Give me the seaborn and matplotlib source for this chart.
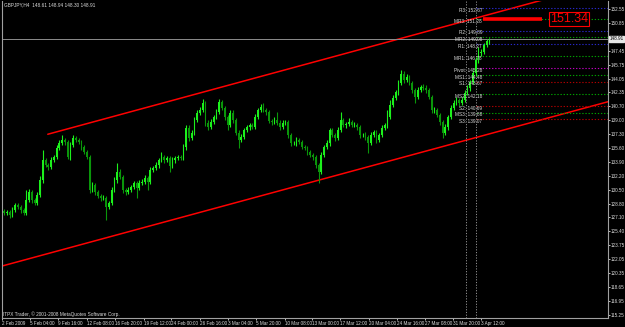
import numpy as np
import pandas as pd
import matplotlib
matplotlib.use("Agg")
import matplotlib.pyplot as plt
import seaborn as sns

# ---------------- data ----------------
first_open = 127.90
closes = [
    127.64, 127.76, 127.40, 128.01, 128.62, 128.37, 128.01, 127.64, 129.23, 130.20,
    129.23, 128.86, 129.84, 131.67, 134.11, 133.50, 133.26, 134.11, 134.48, 135.57,
    136.18, 136.55, 136.31, 134.48, 135.94, 136.79, 136.55, 136.31, 135.70, 135.09,
    134.48, 130.45, 131.06, 130.20, 129.72, 129.47, 129.47, 128.37, 128.86, 130.45,
    131.67, 132.65, 132.04, 130.45, 130.20, 130.45, 130.81, 131.30, 130.69, 131.30,
    131.43, 131.91, 131.43, 132.89, 133.13, 133.50, 134.11, 134.48, 134.11, 134.35,
    133.38, 134.11, 134.35, 134.48, 134.35, 135.70, 138.02, 136.79, 137.41, 138.99,
    139.85, 140.21, 141.07, 138.63, 138.14, 138.75, 139.36, 139.97, 141.19, 140.46,
    139.36, 138.38, 139.85, 138.99, 137.41, 136.55, 136.92, 137.77, 138.14, 138.38,
    138.14, 139.36, 140.21, 140.58, 140.21, 139.97, 138.87, 138.75, 138.99, 138.63,
    138.14, 138.63, 138.75, 137.16, 136.18, 136.18, 136.55, 136.31, 135.70, 135.57,
    135.09, 134.72, 134.48, 133.50, 132.65, 134.72, 135.70, 136.18, 137.77, 137.16,
    136.79, 137.77, 138.99, 138.38, 138.50, 138.75, 138.38, 138.38, 138.14, 137.16,
    137.16, 136.92, 136.18, 137.16, 137.53, 136.55, 137.16, 138.02, 138.38, 139.36,
    140.82, 141.68, 142.41, 143.51, 144.61, 143.87, 144.24, 143.51, 142.65, 141.80,
    142.65, 143.02, 142.90, 142.65, 141.80, 140.21, 140.21, 139.60, 138.75, 137.41,
    138.14, 139.36, 140.46, 141.07, 141.43, 141.07, 141.43, 142.29, 142.90, 143.63,
    144.73, 146.31, 147.17, 147.29, 148.14, 148.61, 148.91,
]
upper_wick = [
    0.25, 0.30, 0.20, 0.35, 0.30, 0.25, 0.30, 0.20, 1.22, 0.35,
    0.30, 0.25, 0.40, 0.45, 1.22, 0.30, 0.25, 0.35, 0.30, 0.40,
    0.35, 0.61, 0.30, 0.25, 0.35, 0.37, 0.30, 0.25, 0.20, 0.30,
    0.25, 0.20, 0.40, 0.30, 0.25, 0.30, 0.35, 0.25, 0.30, 0.40,
    0.35, 1.09, 0.30, 0.25, 0.30, 0.35, 0.30, 0.25, 0.30, 0.35,
    0.30, 0.35, 0.25, 0.40, 0.30, 0.35, 0.30, 0.61, 0.30, 0.25,
    0.30, 0.35, 0.25, 0.30, 0.25, 0.40, 0.36, 0.30, 0.35, 0.40,
    0.30, 0.35, 0.48, 0.25, 0.30, 0.35, 0.30, 0.35, 0.36, 0.30,
    0.25, 0.30, 0.35, 0.30, 0.25, 0.30, 0.35, 0.30, 0.25, 0.30,
    0.30, 0.35, 0.30, 0.35, 0.49, 0.30, 0.25, 0.30, 0.35, 0.98,
    0.30, 0.35, 0.30, 0.25, 0.30, 0.30, 0.35, 0.25, 0.30, 0.25,
    0.30, 0.25, 0.30, 0.25, 0.30, 0.35, 0.30, 0.35, 0.25, 0.30,
    0.30, 0.35, 0.98, 0.30, 0.25, 0.49, 0.30, 0.35, 0.30, 0.25,
    0.30, 0.35, 0.30, 0.35, 0.30, 0.25, 0.30, 0.35, 0.30, 0.85,
    0.61, 0.35, 0.30, 0.40, 0.48, 0.30, 0.35, 0.30, 0.25, 0.30,
    0.35, 0.30, 0.35, 0.30, 0.25, 0.30, 0.35, 0.30, 0.25, 0.30,
    0.35, 0.30, 0.35, 0.30, 0.35, 0.30, 0.35, 0.30, 0.35, 0.30,
    0.35, 0.40, 0.73, 0.35, 0.30, 0.25, 0.03,
]
lower_wick = [
    0.30, 0.25, 0.35, 0.30, 0.25, 0.30, 0.35, 0.30, 0.25, 0.30,
    0.35, 0.30, 0.25, 0.30, 0.35, 0.30, 0.40, 0.30, 0.25, 0.30,
    0.30, 0.25, 0.35, 0.30, 0.40, 0.30, 0.25, 0.30, 0.35, 0.30,
    0.30, 0.35, 0.30, 0.40, 0.30, 0.35, 0.30, 1.58, 0.30, 0.25,
    0.30, 0.35, 0.30, 0.40, 0.35, 0.30, 0.25, 0.30, 1.22, 0.30,
    0.25, 0.30, 0.98, 0.30, 0.25, 0.30, 0.35, 0.30, 0.35, 0.30,
    0.73, 0.30, 0.35, 0.30, 0.25, 0.30, 0.35, 0.40, 0.30, 0.25,
    0.30, 0.25, 0.30, 0.35, 0.40, 0.30, 0.25, 0.30, 0.25, 0.30,
    0.35, 0.61, 0.30, 0.35, 0.30, 0.98, 0.30, 0.25, 0.30, 0.35,
    0.30, 0.25, 0.30, 0.25, 0.30, 0.35, 0.30, 0.35, 0.30, 0.25,
    0.35, 0.30, 0.25, 0.35, 0.40, 0.30, 0.35, 0.30, 0.25, 0.30,
    0.35, 0.30, 0.35, 0.40, 1.35, 0.30, 0.25, 0.30, 0.35, 0.30,
    0.35, 0.30, 0.25, 0.30, 0.35, 0.30, 0.25, 0.30, 0.35, 0.40,
    0.30, 0.35, 1.22, 0.30, 0.25, 0.35, 0.30, 0.25, 0.30, 0.35,
    0.30, 0.25, 0.30, 0.35, 0.30, 0.35, 0.30, 0.25, 0.35, 0.73,
    0.30, 0.25, 0.30, 0.35, 0.30, 0.40, 0.35, 0.30, 0.35, 0.62,
    0.30, 0.35, 0.30, 0.25, 0.30, 0.35, 0.30, 0.25, 0.30, 0.35,
    0.30, 0.35, 0.40, 0.35, 0.30, 0.25, 0.31,
]

price_ticks = [115.25, 116.95, 118.65, 120.35, 122.05, 123.75, 125.40, 127.10,
               128.80, 130.50, 132.20, 133.90, 135.60, 137.30, 139.00, 140.70,
               142.35, 144.05, 145.75, 147.45, 150.85, 152.55]
time_labels = ["2 Feb 2009", "5 Feb 04:00", "9 Feb 16:00", "12 Feb 08:00", "16 Feb 20:00",
               "19 Feb 12:00", "24 Feb 00:00", "26 Feb 16:00", "3 Mar 04:00", "5 Mar 20:00",
               "10 Mar 08:00", "13 Mar 00:00", "17 Mar 12:00", "20 Mar 04:00", "24 Mar 16:00",
               "27 Mar 08:00", "31 Mar 20:00", "3 Apr 12:00"]
time_pos = [-0.72, 9.4, 19.6, 30.1, 40.2, 50.7, 60.5, 71.0, 81.2, 91.3,
            101.8, 111.6, 121.7, 132.2, 142.4, 152.5, 162.7, 172.8]

pivot_names = ["R3", "MR3", "R2", "MR2", "R1", "MR1", "Pivot", "MS1", "S1", "MS2", "S2", "MS3", "S3"]
pivot_values = [152.67, 151.28, 149.89, 149.08, 148.27, 146.78, 145.28,
                144.48, 143.67, 142.18, 140.69, 139.88, 139.07]
pivot_colors = ["#2828c8", "#00a000", "#2828c8", "#00a000", "#2828c8", "#00a000", "#c000c0",
                "#00a000", "#b00000", "#00a000", "#b00000", "#00a000", "#b00000"]
pivot_start = 171.0
day_lines = [167.4, 171.0]

channel_upper_x = [15.8, 219.0]
channel_upper_y = [137.25, 155.80]
channel_lower_x = [-0.8, 219.0]
channel_lower_y = [121.17, 141.22]

target_price = 151.34
target_span = [173.7, 195.1]
last_price = 148.91
header = "GBPJPY,H4  148.61 148.94 148.30 148.91"
copyright_txt = "ITPX Trader, \u00a9 2001-2008 MetaQuotes Software Corp."

# ---------------- build table ----------------
opens = [first_open] + closes[:-1]
df = pd.DataFrame({"bar": np.arange(len(closes)), "open": opens, "close": closes,
                   "uw": upper_wick, "lw": lower_wick})
df["top"] = df[["open", "close"]].max(axis=1)
df["bot"] = df[["open", "close"]].min(axis=1)
df["high"] = df["top"] + df["uw"]
df["low"] = df["bot"] - df["lw"]
df["up"] = df["close"] >= df["open"]

# ---------------- style ----------------
sns.set_theme(style="dark", rc={"axes.facecolor": "black", "figure.facecolor": "black",
                                "axes.grid": False})
plt.rcParams["font.family"] = ["Liberation Sans", "DejaVu Sans"]
txt = "#dcdcdc"
fs_axis = 3.3
fs_lab = 3.4

fig = plt.figure(figsize=(6.25, 3.27), dpi=100)
ax = fig.add_axes([2 / 625, 9 / 327, 606 / 625, 317 / 327])
ax.set_facecolor("black")
ax.set_xlim(-0.8, 219.0)
ax.set_ylim(114.83, 153.51)

# channel lines
sns.lineplot(x=channel_upper_x, y=channel_upper_y, color="#ff0000", lw=1.1, ax=ax)
sns.lineplot(x=channel_lower_x, y=channel_lower_y, color="#ff0000", lw=1.1, ax=ax)

# pivot lines
for v, c in zip(pivot_values, pivot_colors):
    ax.hlines(v, pivot_start, 219.0, colors=c, linestyles=(0, (1.2, 1.6)), lw=0.8, zorder=2)

# day separators
for d in day_lines:
    ax.axvline(d, color="#909090", ls=(0, (1.2, 1.6)), lw=0.7, zorder=2)

# current price line
ax.axhline(last_price, color="#8c8c8c", lw=0.7, zorder=2)

# candles
up_col, dn_col = "#1cf01c", "#0a960a"
cols = np.where(df["up"], up_col, dn_col)
ax.vlines(df["bar"], df["low"], df["high"], colors=cols, lw=0.8, zorder=3)
heights = np.maximum(df["top"] - df["bot"], 0.06)
ax.bar(df["bar"], heights, bottom=df["bot"], width=0.62, color=cols, linewidth=0, zorder=4)

# pivot labels
for n, v in zip(pivot_names, pivot_values):
    ax.annotate(f"{n}: {v:.2f}", xy=(173.3, v), xytext=(0, -1.6), textcoords="offset points",
                ha="right", va="center", fontsize=fs_lab, color=txt, zorder=6)

# target marker
ax.hlines(target_price, target_span[0], target_span[1], colors="#ff0000", lw=2.6, zorder=5)
ax.text(204.9, target_price, f"{target_price:.2f}", color="#ff0000", fontsize=9.0,
        ha="center", va="center", zorder=6,
        bbox=dict(facecolor="black", edgecolor="#ff0000", lw=0.8, pad=0.6))

# spines
for s in ["left", "bottom", "right"]:
    ax.spines[s].set_color("#a0a0a0")
    ax.spines[s].set_linewidth(0.8)
ax.spines["top"].set_visible(False)

# axes ticks
ax.yaxis.tick_right()
ax.set_yticks(price_ticks)
ax.set_yticklabels([f"{p:.2f}" for p in price_ticks])
ax.set_xticks(time_pos)
ax.set_xticklabels(time_labels, ha="left")
ax.tick_params(axis="y", which="both", right=True, left=False, length=1.4, width=0.6,
               pad=0.6, labelsize=fs_axis, colors=txt)
ax.tick_params(axis="x", which="both", bottom=True, length=1.6, width=0.6,
               pad=0.8, labelsize=fs_axis, colors=txt)

# current price box on axis
ax.annotate(f"{last_price:.2f}", xy=(1, last_price), xycoords=("axes fraction", "data"),
            xytext=(0.9, 0), textcoords="offset points", ha="left", va="center",
            fontsize=fs_axis, color="black", annotation_clip=False, zorder=7,
            bbox=dict(facecolor="#e8e8e8", edgecolor="#e8e8e8", pad=0.5))

fig.text(4 / 625, 1 - 5 / 327, header, fontsize=fs_lab, color=txt, va="center", ha="left")
fig.text(3 / 625, 1 - 314 / 327, copyright_txt, fontsize=fs_lab, color=txt, va="center", ha="left")

fig.savefig("out.png", dpi=100, facecolor="black")
